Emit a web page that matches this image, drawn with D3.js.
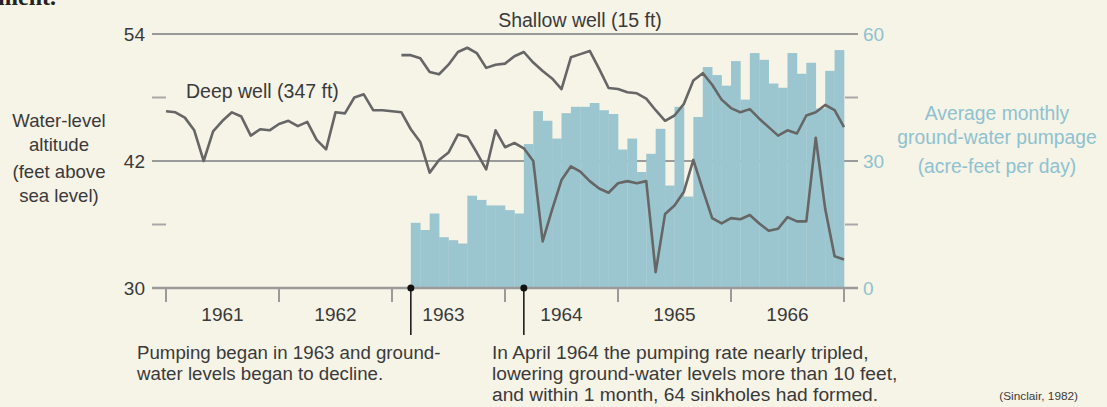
<!DOCTYPE html>
<html>
<head>
<meta charset="utf-8">
<script src="https://cdn.jsdelivr.net/npm/d3@7"></script>
<style>
  html, body { margin: 0; padding: 0; background: #f6f3e7; }
  svg { display: block; font-family: "Liberation Sans", Arial, sans-serif; }
</style>
</head>
<body>
<svg id="chart" width="1107" height="407"></svg>
<script>
// months counted from Jan 1961 (0) to Jan 1967 (72)
const years = [1961, 1962, 1963, 1964, 1965, 1966];

// deep well (347 ft), water level in feet, one value per month 0..72
const deepWell = [
  46.7, 46.6, 46.1, 44.9, 42.0, 44.8, 45.8, 46.6, 46.2, 44.4, 45.0, 44.9,
  45.5, 45.8, 45.3, 45.7, 44.0, 43.1, 46.6, 46.5, 48.0, 48.3, 46.8, 46.8,
  46.7, 46.6, 45.0, 43.8, 40.9, 42.1, 42.8, 44.5, 44.3, 42.8, 41.2, 44.9,
  43.3, 43.7, 43.2, 42.0, 34.4, 37.4, 40.2, 41.5, 41.0, 40.1, 39.4, 39.0,
  39.9, 40.1, 39.9, 40.1, 31.5, 37.0, 37.8, 39.1, 42.1, 39.3, 36.6, 36.1,
  36.6, 36.5, 36.9, 36.1, 35.4, 35.6, 36.7, 36.3, 36.3, 44.2, 37.5, 33.0,
  32.7
];

// shallow well (15 ft), starts at month 25
const shallowStart = 25;
const shallowWell = [
  52.0, 52.0, 51.7, 50.4, 50.2, 51.1, 52.3, 52.7, 52.2, 50.8, 51.1,
  51.2, 51.9, 52.3, 51.3, 50.5, 49.8, 48.8, 51.8, 52.1, 52.4, 50.7, 48.9,
  48.8, 48.5, 48.4, 47.9, 46.8, 45.8, 46.3, 47.4, 49.6, 50.3, 49.2, 47.8,
  47.0, 46.6, 46.9, 46.0, 45.2, 44.4, 44.9, 44.6, 46.3, 46.6, 47.3, 46.8,
  45.2
];

// average monthly pumpage (acre-feet per day), from Mar 1963 (month 26)
const pumpStart = 26;
const pumpage = [
  15.4, 13.7, 17.6, 12.0, 11.3, 10.5, 21.8, 20.8, 19.5, 19.5, 18.4, 17.6,
  34.0, 41.8, 39.5, 35.3, 41.3, 42.8, 42.8, 43.7, 42.0, 41.1, 32.7, 35.3,
  27.4, 31.7, 37.6, 24.2, 42.8, 21.6, 40.4, 52.2, 50.3, 47.8, 53.6, 44.5,
  55.5, 53.9, 48.3, 47.3, 55.5, 50.6, 53.2, 42.4, 51.3, 56.2
];

const leftTicks = [30, 42, 54];
const leftMinor = [36, 48];
const rightTicks = [0, 30, 60];

const markers = [26, 38];

const note1 = ["Pumping began in 1963 and ground-", "water levels began to decline."];
const note2 = ["In April 1964 the pumping rate nearly tripled,",
               "lowering ground-water levels more than 10 feet,",
               "and within 1 month, 64 sinkholes had formed."];

const svg = d3.select("#chart");
const textCol = "#3a3a3a", gridCol = "#9a9a9a", blue = "#9cc6cf", blueText = "#8ec2cf", lineCol = "#666666";

const x = d3.scaleLinear().domain([0, 72]).range([166, 844]);
const yL = d3.scaleLinear().domain([30, 54]).range([288, 34]);
const yR = d3.scaleLinear().domain([0, 60]).range([288, 34]);
const monthW = x(1) - x(0);

// cut off body text at top
svg.append("text")
  .attr("x", -2).attr("y", 5)
  .attr("font-family", "Liberation Serif, Georgia, serif")
  .attr("font-weight", "bold")
  .attr("font-size", 24)
  .attr("fill", "#222")
  .text("ment.");

// gridlines (behind bars)
svg.append("g").selectAll("line")
  .data(leftTicks)
  .enter().append("line")
  .attr("x1", 152).attr("x2", 858)
  .attr("y1", d => yL(d)).attr("y2", d => yL(d))
  .attr("stroke", gridCol).attr("stroke-width", 2);

// minor ticks left and right
leftMinor.forEach(v => {
  [[152, 166], [845, 858]].forEach(([a, b]) => {
    svg.append("line")
      .attr("x1", a).attr("x2", b)
      .attr("y1", yL(v)).attr("y2", yL(v))
      .attr("stroke", "#a8a8a8").attr("stroke-width", 2);
  });
});

// pumpage bars
svg.append("g").selectAll("rect")
  .data(pumpage)
  .enter().append("rect")
  .attr("x", (d, i) => x(pumpStart + i))
  .attr("width", monthW + 0.3)
  .attr("y", d => yR(d))
  .attr("height", d => yR(0) - yR(d))
  .attr("fill", blue);

// x axis ticks
svg.append("g").selectAll("line")
  .data(d3.range(0, 73, 12))
  .enter().append("line")
  .attr("x1", d => x(d)).attr("x2", d => x(d))
  .attr("y1", 288).attr("y2", 302)
  .attr("stroke", gridCol).attr("stroke-width", 2);

svg.append("line")
  .attr("x1", 152).attr("x2", 858)
  .attr("y1", 288).attr("y2", 288)
  .attr("stroke", gridCol).attr("stroke-width", 2.5);

// year labels
svg.append("g").selectAll("text")
  .data(years)
  .enter().append("text")
  .attr("x", (d, i) => x(i * 12 + 6) - (d === 1963 ? 5 : 0))
  .attr("y", 314)
  .attr("dy", "0.35em")
  .attr("text-anchor", "middle")
  .attr("font-size", 19)
  .attr("fill", textCol)
  .text(d => d);

// left tick labels
svg.append("g").selectAll("text")
  .data(leftTicks)
  .enter().append("text")
  .attr("x", 145).attr("y", d => yL(d))
  .attr("dy", "0.35em")
  .attr("text-anchor", "end")
  .attr("font-size", 19)
  .attr("fill", textCol)
  .text(d => d);

// right tick labels
svg.append("g").selectAll("text")
  .data(rightTicks)
  .enter().append("text")
  .attr("x", 863).attr("y", d => yR(d))
  .attr("dy", "0.35em")
  .attr("font-size", 19)
  .attr("fill", blueText)
  .text(d => d);

// well lines
const line = d3.line().x(d => x(d[0])).y(d => yL(d[1]));

svg.append("path")
  .datum(deepWell.map((v, i) => [i, v]))
  .attr("d", line)
  .attr("fill", "none")
  .attr("stroke", lineCol)
  .attr("stroke-width", 2.6)
  .attr("stroke-linejoin", "round");

svg.append("path")
  .datum(shallowWell.map((v, i) => [shallowStart + i, v]))
  .attr("d", line)
  .attr("fill", "none")
  .attr("stroke", lineCol)
  .attr("stroke-width", 2.6)
  .attr("stroke-linejoin", "round");

// series labels
svg.append("text")
  .attr("x", 580).attr("y", 20).attr("dy", "0.35em")
  .attr("text-anchor", "middle")
  .attr("font-size", 19.5).attr("fill", textCol)
  .text("Shallow well (15 ft)");

svg.append("text")
  .attr("x", 186).attr("y", 91).attr("dy", "0.35em")
  .attr("font-size", 19.5).attr("fill", textCol)
  .text("Deep well (347 ft)");

// axis titles
const leftTitle = ["Water-level", "altitude", "(feet above", "sea level)"];
const leftTitleY = [120, 144, 171, 195];
svg.append("g").selectAll("text")
  .data(leftTitle)
  .enter().append("text")
  .attr("x", 59).attr("y", (d, i) => leftTitleY[i])
  .attr("dy", "0.35em")
  .attr("text-anchor", "middle")
  .attr("font-size", 18.6).attr("fill", textCol)
  .text(d => d);

const rightTitle = ["Average monthly", "ground-water pumpage", "(acre-feet per day)"];
const rightTitleY = [113, 137, 166];
svg.append("g").selectAll("text")
  .data(rightTitle)
  .enter().append("text")
  .attr("x", 997).attr("y", (d, i) => rightTitleY[i])
  .attr("dy", "0.35em")
  .attr("text-anchor", "middle")
  .attr("font-size", 19.3).attr("fill", blueText)
  .text(d => d);

// event markers
markers.forEach(m => {
  svg.append("line")
    .attr("x1", x(m)).attr("x2", x(m))
    .attr("y1", 288).attr("y2", 335)
    .attr("stroke", "#111").attr("stroke-width", 1.5);
  svg.append("circle")
    .attr("cx", x(m)).attr("cy", 288).attr("r", 3.5)
    .attr("fill", "#111");
});

// annotations
function addNote(lines, x0, size) {
  svg.append("g").selectAll("text")
    .data(lines)
    .enter().append("text")
    .attr("x", x0).attr("y", (d, i) => 352 + i * 21)
    .attr("dy", "0.35em")
    .attr("font-size", size).attr("fill", textCol)
    .text(d => d);
}
addNote(note1, 137, 18.7);
addNote(note2, 492, 19.2);

svg.append("text")
  .attr("x", 1078).attr("y", 396).attr("dy", "0.35em")
  .attr("text-anchor", "end")
  .attr("font-size", 11.8).attr("fill", textCol)
  .text("(Sinclair, 1982)");
</script>
</body>
</html>
